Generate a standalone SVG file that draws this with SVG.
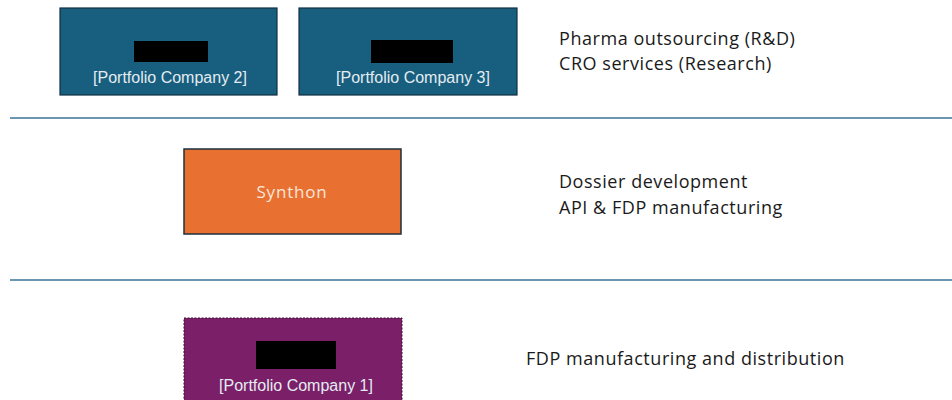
<svg xmlns="http://www.w3.org/2000/svg" width="952" height="400" viewBox="0 0 952 400">
  <style>
    .box-blue { fill: #185E7E; stroke: #0F2F42; stroke-width: 1.2; }
    .box-orange { fill: #E87031; stroke: #1E3040; stroke-width: 1.5; }
    .box-purple { fill: #7A1F68; stroke: #3A1030; stroke-width: 1; stroke-dasharray: 2 1.5; }
    .mask { fill: #000000; }
    .co { font-family: "Liberation Sans", Arial, sans-serif; font-size: 16px; fill: #E4ECF2; text-anchor: middle; }
    .name { font-family: "Open Sans", "Noto Sans", sans-serif; font-size: 17px; fill: #FBE6DA; text-anchor: middle; letter-spacing: 0.8px; }
    .desc { font-family: "Open Sans", "Noto Sans", sans-serif; font-size: 18px; fill: #1A1A1A; letter-spacing: 0.55px; }
    .divider { stroke: #3A7296; stroke-width: 1.6; }
  </style>

  <rect width="952" height="400" fill="#FFFFFF"/>

  <g id="dividers">
    <line class="divider" x1="10" y1="118" x2="952" y2="118"/>
    <line class="divider" x1="10" y1="280" x2="952" y2="280"/>
  </g>

  <g id="portfolio-company-2">
    <rect class="box-blue" x="60" y="8" width="217" height="87"/>
    <rect class="mask" x="134" y="41" width="74" height="21"/>
    <text class="co" x="170" y="83">[Portfolio Company 2]</text>
  </g>

  <g id="portfolio-company-3">
    <rect class="box-blue" x="299" y="8" width="218" height="87"/>
    <rect class="mask" x="371" y="40" width="82" height="23"/>
    <text class="co" x="413" y="83">[Portfolio Company 3]</text>
  </g>

  <g id="synthon">
    <rect class="box-orange" x="184" y="149" width="217" height="85"/>
    <text class="name" x="292" y="198">Synthon</text>
  </g>

  <g id="portfolio-company-1">
    <rect class="box-purple" x="184" y="318" width="218" height="90"/>
    <rect class="mask" x="256" y="341" width="80" height="28"/>
    <text class="co" x="296" y="391">[Portfolio Company 1]</text>
  </g>

  <g id="descriptions">
    <text class="desc" x="559" y="45">Pharma outsourcing (R&amp;D)</text>
    <text class="desc" x="559" y="70">CRO services (Research)</text>
    <text class="desc" x="559" y="188">Dossier development</text>
    <text class="desc" x="559" y="214">API &amp; FDP manufacturing</text>
    <text class="desc" x="526" y="365">FDP manufacturing and distribution</text>
  </g>
</svg>
